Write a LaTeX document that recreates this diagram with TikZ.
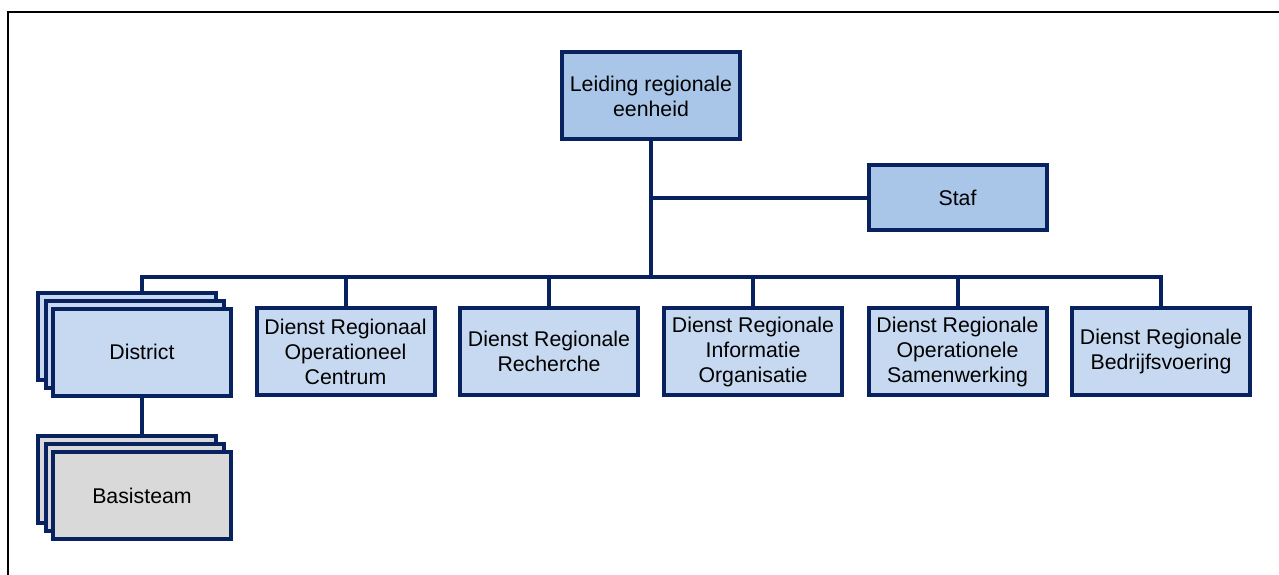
\documentclass[tikz,border=0pt]{standalone}
\usepackage{fontspec}
\setmainfont{Liberation Sans}
\definecolor{navy}{RGB}{8,34,96}
\definecolor{topfill}{RGB}{169,198,233}
\definecolor{deptfill}{RGB}{198,217,241}
\definecolor{greyfill}{RGB}{217,217,217}
\begin{document}
\begin{tikzpicture}[x=1pt,y=-1pt,
  box/.style={draw=navy,line width=4pt,rectangle,minimum width=178pt,minimum height=87pt,inner sep=0pt,outer sep=0pt,align=center,font=\fontsize{21.3}{25}\selectfont,text=black},
  topbox/.style={box,fill=topfill},
  deptbox/.style={box,fill=deptfill},
  greybox/.style={box,fill=greyfill},
  conn/.style={draw=navy,line width=4pt},
  frame/.style={draw=black,line width=2.5pt}]
\useasboundingbox (0,0) rectangle (1279,575);
\coordinate (fa) at (8,580);
\coordinate (fb) at (8,12);
\coordinate (fc) at (1285,12);
\draw[frame] (fa) -- (fb) -- (fc);
% top
\node[topbox] (leiding) at (651,96) {Leiding regionale\\eenheid};
\node[topbox,minimum height=65pt] (staf) at (957.5,197.5) {Staf};
% district stack
\node[deptbox] (districtb2) at (126.5,336.5) {};
\node[deptbox] (districtb1) at (134.5,344) {};
\node[deptbox] (district) at (142,352) {District};
% basisteam stack
\node[greybox] (basisb2) at (126.5,479.5) {};
\node[greybox] (basisb1) at (134.5,487) {};
\node[greybox] (basis) at (142,495.5) {Basisteam};
% departments
\node[deptbox] (droc) at (345.5,351.5) {Dienst Regionaal\\Operationeel\\Centrum};
\node[deptbox] (drr) at (549,351.5) {Dienst Regionale\\Recherche};
\node[deptbox] (drio) at (753,351.5) {Dienst Regionale\\Informatie\\Organisatie};
\node[deptbox] (dros) at (957.5,351.5) {Dienst Regionale\\Operationele\\Samenwerking};
\node[deptbox] (drb) at (1161,351.5) {Dienst Regionale\\Bedrijfsvoering};
% connectors
\coordinate (bus) at (651,277);
\draw[conn] (leiding.south) -- (bus);
\draw[conn] (leiding.south |- staf.west) -- (staf.west);
\draw[conn] (district.north |- districtb2.north) -- (district.north |- bus) -- (drb.north |- bus) -- (drb.north);
\draw[conn] (droc.north |- bus) -- (droc.north);
\draw[conn] (drr.north |- bus) -- (drr.north);
\draw[conn] (drio.north |- bus) -- (drio.north);
\draw[conn] (dros.north |- bus) -- (dros.north);
\draw[conn] (district.south) -- (district.south |- basisb2.north);
\end{tikzpicture}
\end{document}
